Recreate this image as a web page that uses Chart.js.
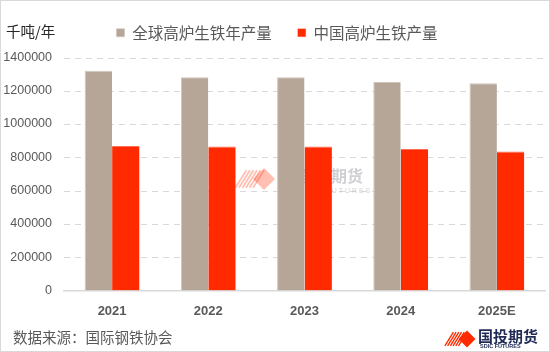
<!DOCTYPE html>
<html><head><meta charset="utf-8">
<script src="https://cdn.jsdelivr.net/npm/chart.js@4.4.1/dist/chart.umd.min.js"></script>
<style>
html,body{margin:0;padding:0;background:#fff;}
#wrap{position:relative;width:550px;height:352px;box-sizing:border-box;border:1px solid #d9d9d9;overflow:hidden;}
#c{position:absolute;left:0;top:0;}
.unit{position:absolute;left:5px;top:19px;font:14.5px 'Noto Sans CJK SC',sans-serif;color:#262626;}
.src{position:absolute;left:12px;top:325px;font:14.5px 'Noto Sans CJK SC',sans-serif;color:#595959;}
</style></head>
<body>
<div id="wrap">
<canvas id="c" width="548" height="350"></canvas>
<div class="unit">千吨/年</div>
<div class="src">数据来源：国际钢铁协会</div>
</div>
<script>
const categories = ['2021','2022','2023','2024','2025E'];
const seriesNames = ['全球高炉生铁年产量','中国高炉生铁产量'];
const worldValues = [1320000, 1282000, 1281000, 1253000, 1245000];
const chinaValues = [868000, 865000, 865000, 850000, 835000];
const yTicks = [0,200000,400000,600000,800000,1000000,1200000,1400000];

const NUM_FONT = "'Liberation Sans','Noto Sans CJK SC',sans-serif";
const CJK_FONT = "'Noto Sans CJK SC',sans-serif";

function drawMark(ctx, x, y, s, alpha) {
  ctx.save();
  ctx.globalAlpha = alpha;
  ctx.strokeStyle = '#ff2a00';
  ctx.lineWidth = Math.max(1, s*0.16);
  for (let i = 0; i < 6; i++) {
    const ox = x - s*2.0 + i*s*0.32;
    ctx.beginPath();
    ctx.moveTo(ox - s*0.6, y + s*0.8);
    ctx.lineTo(ox + s*0.4, y - s*0.8);
    ctx.stroke();
  }
  ctx.fillStyle = '#ff2a00';
  ctx.beginPath();
  ctx.moveTo(x, y - s); ctx.lineTo(x + s, y); ctx.lineTo(x, y + s); ctx.lineTo(x - s, y);
  ctx.closePath(); ctx.fill();
  ctx.restore();
}

const extras = {
  id: 'extras',
  beforeInit(chart) {
    const lg = chart.legend;
    if (lg) {
      const f = lg.fit.bind(lg);
      lg.fit = function () { f(); this.height += 7; };
    }
  },
  afterLayout(chart) {
    const lg = chart.legend;
    if (lg) { lg.left += 4; lg.right += 4; if (lg.adjustHitBoxes) lg.adjustHitBoxes(); }
  },
  beforeDatasetsDraw(chart) {
    const ctx = chart.ctx;
    const y = chart.scales.y, area = chart.chartArea;
    ctx.save();
    ctx.strokeStyle = '#d9d9d9';
    ctx.lineWidth = 1.2;
    ctx.setLineDash([6, 5]);
    y.ticks.forEach(t => {
      if (t.value === 0) return;
      const py = Math.round(y.getPixelForValue(t.value)) + 0.5;
      ctx.beginPath();
      ctx.moveTo(area.left, py);
      ctx.lineTo(area.right, py);
      ctx.stroke();
    });
    ctx.restore();

    drawMark(ctx, 263, 178, 11, 0.3);
    ctx.save();
    ctx.fillStyle = 'rgba(150,150,160,0.45)';
    ctx.font = "bold 16px " + CJK_FONT;
    ctx.textBaseline = 'middle';
    ctx.fillText('国投期货', 298, 175);
    ctx.font = "7px " + NUM_FONT;
    ctx.fillText('S D I C  F U T U R E S', 298, 190);
    ctx.restore();
  },
  afterDraw(chart) {
    const ctx = chart.ctx;
    drawMark(ctx, 466, 338, 8.5, 1);
    ctx.save();
    ctx.fillStyle = '#1f2a55';
    ctx.font = "bold 15px " + CJK_FONT;
    ctx.textBaseline = 'middle';
    ctx.fillText('国投期货', 477, 335);
    ctx.font = "bold 5.5px " + NUM_FONT;
    ctx.fillText('SDIC FUTURES', 479, 345.5);
    ctx.restore();
  }
};

new Chart(document.getElementById('c'), {
  type: 'bar',
  data: {
    labels: categories,
    datasets: [
      { label: seriesNames[0], data: worldValues, backgroundColor: '#b5a698', borderColor: '#cfc3b8', borderWidth: {top:1,left:1,right:0,bottom:0} },
      { label: seriesNames[1], data: chinaValues, backgroundColor: '#ff2a00', borderColor: '#ff6a55', borderWidth: {top:1,left:0,right:0,bottom:0} }
    ]
  },
  options: {
    responsive: false,
    animation: false,
    devicePixelRatio: 1,
    layout: { padding: { left: 0, right: 4, top: -2, bottom: 19 } },
    datasets: { bar: { categoryPercentage: 0.57, barPercentage: 1.0 } },
    plugins: {
      legend: {
        position: 'top',
        labels: {
          boxWidth: 8, boxHeight: 8, padding: 26,
          color: '#595959',
          font: { family: CJK_FONT, size: 15.5 }
        }
      },
      tooltip: { enabled: false }
    },
    scales: {
      x: {
        grid: { display: false, drawTicks: false },
        border: { display: true, color: '#d9d9d9', width: 1.5 },
        ticks: { color: '#595959', font: { family: NUM_FONT, size: 13, weight: 'bold' }, padding: 13 }
      },
      y: {
        min: 0, max: 1400000,
        afterFit(scale) { scale.width = 63; },
        afterBuildTicks(scale) { scale.ticks = yTicks.map(v => ({ value: v })); },
        grid: { display: false, drawTicks: false },
        border: { display: false },
        ticks: {
          color: '#595959', font: { family: NUM_FONT, size: 12.5 }, padding: 12,
          callback: (v) => String(v)
        }
      }
    }
  },
  plugins: [extras]
});
</script>
</body></html>
